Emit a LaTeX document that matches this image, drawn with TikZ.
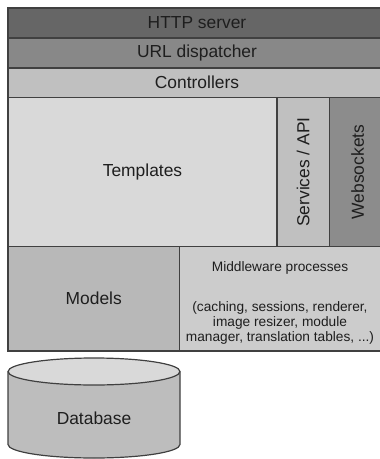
\documentclass[tikz,border=0pt]{standalone}
\usepackage{fontspec}
\setmainfont{Liberation Sans}
\definecolor{cHttp}{HTML}{666666}
\definecolor{cUrl}{HTML}{888888}
\definecolor{cCtrl}{HTML}{C0C0C0}
\definecolor{cTpl}{HTML}{D9D9D9}
\definecolor{cSvc}{HTML}{C0C0C0}
\definecolor{cWs}{HTML}{8C8C8C}
\definecolor{cMod}{HTML}{B8B8B8}
\definecolor{cMid}{HTML}{CCCCCC}
\definecolor{cDbBody}{HTML}{BDBDBD}
\definecolor{cDbTop}{HTML}{D9D9D9}
\definecolor{cLine}{HTML}{404040}
\definecolor{cText}{HTML}{1E1E1E}
\begin{document}
\begin{tikzpicture}[x=1pt,y=-1pt,
  layer/.style={draw=cLine, line width=1.2pt, inner sep=0pt, outer sep=0pt,
    font=\fontsize{17.4}{20}\selectfont, text=cText},
  small/.style={inner sep=0pt, align=center, text=cText,
    font=\fontsize{13.7}{15}\selectfont},
  dbline/.style={draw=cLine, line width=1.2pt}]
\useasboundingbox (0,0) rectangle (380,459);
\node[layer, fill=cHttp, minimum width=378pt, minimum height=30pt] (http) at (197,23) {HTTP server};
\node[layer, fill=cUrl, minimum width=378pt, minimum height=30pt] (url) at (197,53) {URL dispatcher};
\node[layer, fill=cCtrl, minimum width=378pt, minimum height=29.5pt] (ctrl) at (197,82.75) {Controllers};
\node[layer, fill=cTpl, minimum width=269pt, minimum height=149pt] (tpl) at (142.5,172) {Templates};
\node[layer, fill=cSvc, rotate=90, minimum width=149pt, minimum height=52.5pt] (svc) at (303.25,172) {Services / API};
\node[layer, fill=cWs, rotate=90, minimum width=149pt, minimum height=56.5pt] (ws) at (357.75,172) {Websockets};
\node[layer, fill=cMod, minimum width=171.5pt, minimum height=104.5pt] (mod) at (93.75,298.75) {Models};
\node[layer, fill=cMid, minimum width=206.5pt, minimum height=104.5pt] (mid) at (282.75,298.75) {};
\node[small] (midtxt) at (280,303) {Middleware processes\\[25pt](caching, sessions, renderer,\\image resizer, module\\manager, translation tables, ...)};
% database cylinder
\fill[cDbBody] (8,371.5) -- (8,444.5) arc[start angle=180, end angle=360, x radius=86pt, y radius=13.5pt] -- (180,371.5) -- cycle;
\path[dbline] (8,371.5) -- (8,444.5) arc[start angle=180, end angle=360, x radius=86pt, y radius=13.5pt] -- (180,371.5);
\path[dbline, fill=cDbTop] (94,371.5) ellipse[x radius=86pt, y radius=13.5pt];
\node[inner sep=0pt, text=cText, font=\fontsize{17.4}{20}\selectfont] (db) at (94,418) {Database};
\end{tikzpicture}
\end{document}
